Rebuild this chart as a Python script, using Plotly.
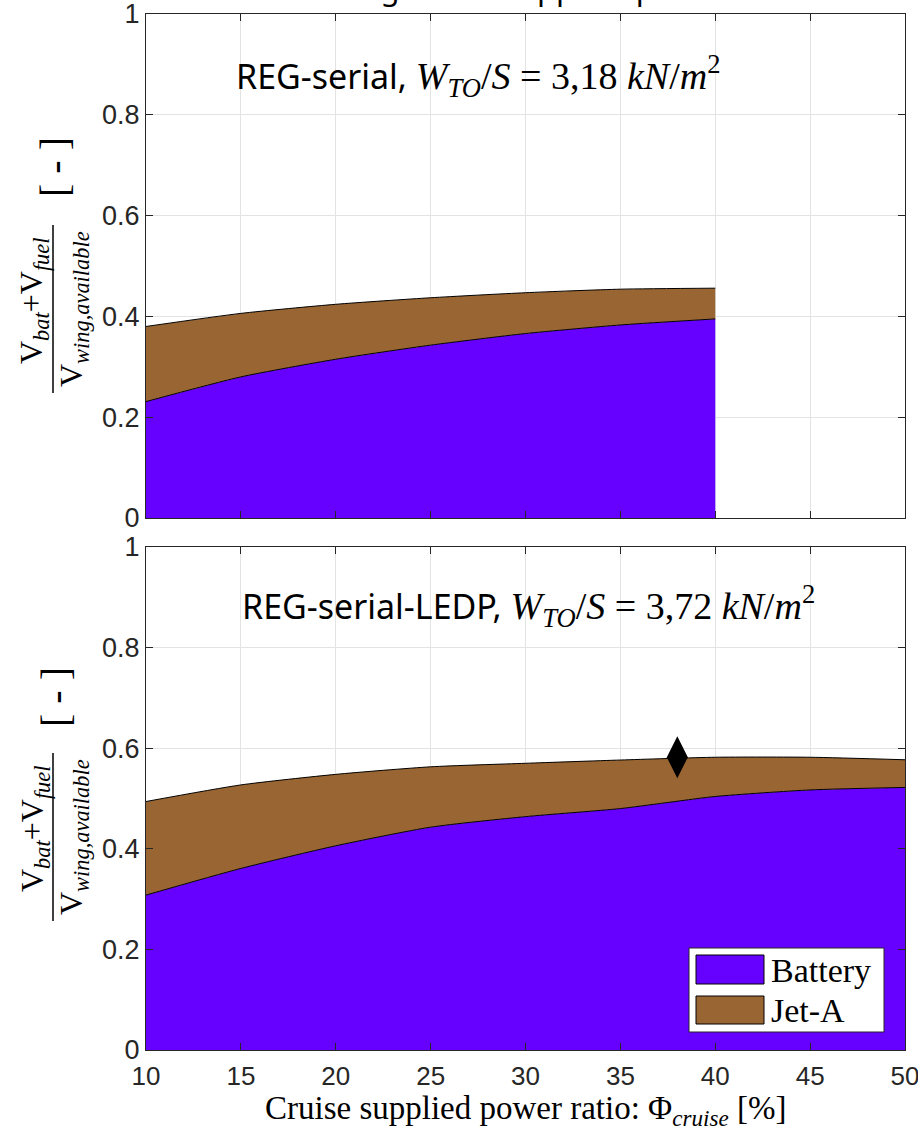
import plotly.graph_objects as go

# Cruise supplied power ratio (%)
phi_top = [10, 15, 20, 25, 30, 35, 40]
phi_bot = [10, 15, 20, 25, 30, 35, 40, 45, 50]

# Volume fraction of available wing volume, REG-serial (W_TO/S = 3.18 kN/m2)
battery_top = [0.231, 0.280, 0.315, 0.343, 0.366, 0.383, 0.395]
total_top = [0.380, 0.406, 0.424, 0.437, 0.447, 0.454, 0.456]   # battery + Jet-A

# REG-serial-LEDP (W_TO/S = 3.72 kN/m2)
battery_bot = [0.308, 0.361, 0.406, 0.443, 0.464, 0.480, 0.504, 0.517, 0.522]
total_bot = [0.494, 0.527, 0.548, 0.563, 0.570, 0.5765, 0.582, 0.582, 0.577]

# selected design point
opt_phi = [38]
opt_val = [0.582]

x_ticks = [10, 15, 20, 25, 30, 35, 40, 45, 50]
y_ticks = [0, 0.2, 0.4, 0.6, 0.8, 1]

BAT = "#6600ff"
JET = "#996633"
AX = "#262626"
SERIF = "Liberation Serif"
SANS = "Noto Sans"

W, H = 918, 1135
ML, MR, MT, MB = 146, 13, 14, 85
PW, PH = W - ML - MR, H - MT - MB


def px(xp):
    return (xp - ML) / PW


def py(yp):
    return (H - MB - yp) / PH


fig = go.Figure()

for xa, ya, xs, bat, tot in [("x", "y", phi_top, battery_top, total_top),
                             ("x2", "y2", phi_bot, battery_bot, total_bot)]:
    fig.add_trace(go.Scatter(x=xs, y=bat, xaxis=xa, yaxis=ya, mode="lines",
                             line=dict(color="black", width=1, shape="spline", smoothing=0.6),
                             fill="tozeroy", fillcolor=BAT, name="Battery",
                             showlegend=False, hoverinfo="skip"))
    fig.add_trace(go.Scatter(x=xs, y=tot, xaxis=xa, yaxis=ya, mode="lines",
                             line=dict(color="black", width=1, shape="spline", smoothing=0.6),
                             fill="tonexty", fillcolor=JET, name="Jet-A",
                             showlegend=False, hoverinfo="skip"))

fig.add_trace(go.Scatter(x=opt_phi, y=opt_val, xaxis="x2", yaxis="y2", mode="markers",
                         marker=dict(symbol="diamond-tall", size=30, color="black"),
                         showlegend=False, hoverinfo="skip"))

tick_font = dict(family="Liberation Sans", size=26, color=AX)
axis_common = dict(range=[10, 50], tickvals=x_ticks, showgrid=True, gridcolor="#e3e3e3",
                   gridwidth=1, showline=True, linecolor=AX, linewidth=1, mirror="ticks",
                   ticks="inside", ticklen=7, tickcolor=AX, zeroline=False, automargin=False,
                   ticklabeloverflow="allow", tickfont=tick_font)
yaxis_common = dict(range=[0, 1], tickvals=y_ticks, ticktext=["0", "0.2", "0.4", "0.6", "0.8", "1"],
                    showgrid=True, gridcolor="#e3e3e3", gridwidth=1, showline=True, linecolor=AX,
                    linewidth=1, mirror="ticks", ticks="inside", ticklen=7, tickcolor=AX,
                    zeroline=False, automargin=False, ticklabeloverflow="allow",
                    tickfont=dict(tick_font, size=27))

fig.update_layout(
    width=W, height=H, margin=dict(l=ML, r=MR, t=MT, b=MB, autoexpand=False),
    paper_bgcolor="white", plot_bgcolor="white", showlegend=False,
    xaxis=dict(axis_common, domain=[0, 1], anchor="y", showticklabels=False),
    yaxis=dict(yaxis_common, domain=[py(518), 1], anchor="x"),
    xaxis2=dict(axis_common, domain=[0, 1], anchor="y2", ticklabelstandoff=3),
    yaxis2=dict(yaxis_common, domain=[0, py(547)], anchor="x2"),
)

ann = []
math_style = 'style="font-family:%s;font-size:38px"' % SERIF

# clipped header above the upper panel
ann.append(dict(text="Increasing cruise supplied power ratio", xref="paper", yref="paper",
                x=px(525), y=py(11), xanchor="center", yanchor="bottom", showarrow=False,
                font=dict(family=SANS, size=31, color="black")))

ann.append(dict(text='REG-serial, <span %s><i>W</i><sub><i>TO</i></sub>/<i>S</i> = 3,18 <i>kN</i>/<i>m</i><sup>2</sup></span>' % math_style,
                xref="paper", yref="paper", x=px(478), y=py(76), xanchor="center", yanchor="middle",
                showarrow=False, font=dict(family=SANS, size=34, color="black")))
ann.append(dict(text='REG-serial-LEDP, <span %s><i>W</i><sub><i>TO</i></sub>/<i>S</i> = 3,72 <i>kN</i>/<i>m</i><sup>2</sup></span>' % math_style,
                xref="paper", yref="paper", x=px(528), y=py(606), xanchor="center", yanchor="middle",
                showarrow=False, font=dict(family=SANS, size=34, color="black")))

# y-axis labels drawn as a stacked fraction for each panel
shapes = []
for ymid, br in [(309, 167), (837, 697)]:
    ann.append(dict(text="V<sub><i>bat</i></sub>+V<sub><i>fuel</i></sub>", textangle=-90,
                    xref="paper", yref="paper", x=px(34), y=py(ymid - 8), xanchor="center",
                    yanchor="middle", showarrow=False, font=dict(family=SERIF, size=32, color="black")))
    ann.append(dict(text="V<sub><i>wing,available</i></sub>", textangle=-90,
                    xref="paper", yref="paper", x=px(73), y=py(ymid), xanchor="center",
                    yanchor="middle", showarrow=False, font=dict(family=SERIF, size=32, color="black")))
    ann.append(dict(text="[ - ]", textangle=-90, xref="paper", yref="paper", x=px(55), y=py(br),
                    xanchor="center", yanchor="middle", showarrow=False,
                    font=dict(family=SERIF, size=40, color="black")))
    shapes.append(dict(type="line", xref="paper", yref="paper", x0=px(53), x1=px(53),
                       y0=py(ymid - 84), y1=py(ymid + 84), line=dict(color="black", width=1.5)))

# x-axis title
ann.append(dict(text="Cruise supplied power ratio: Φ<sub><i>cruise</i></sub> [%]", xref="paper",
                yref="paper", x=px(525), y=py(1110), xanchor="center", yanchor="middle",
                showarrow=False, font=dict(family=SERIF, size=33, color="black")))

# legend box with patches
shapes.append(dict(type="rect", xref="paper", yref="paper", x0=px(689), x1=px(884),
                   y0=py(1032), y1=py(948), fillcolor="white", line=dict(color=AX, width=1)))
for (y0, y1, col, label, ymid) in [(955, 984, BAT, "Battery", 970), (996, 1024, JET, "Jet-A", 1010)]:
    shapes.append(dict(type="rect", xref="paper", yref="paper", x0=px(696), x1=px(764),
                       y0=py(y1), y1=py(y0), fillcolor=col, line=dict(color="black", width=1)))
    ann.append(dict(text=label, xref="paper", yref="paper", x=px(769), y=py(ymid),
                    xanchor="left", yanchor="middle", showarrow=False,
                    font=dict(family=SERIF, size=34, color="black")))

fig.update_layout(annotations=ann, shapes=shapes)
fig.write_html("out.html")
